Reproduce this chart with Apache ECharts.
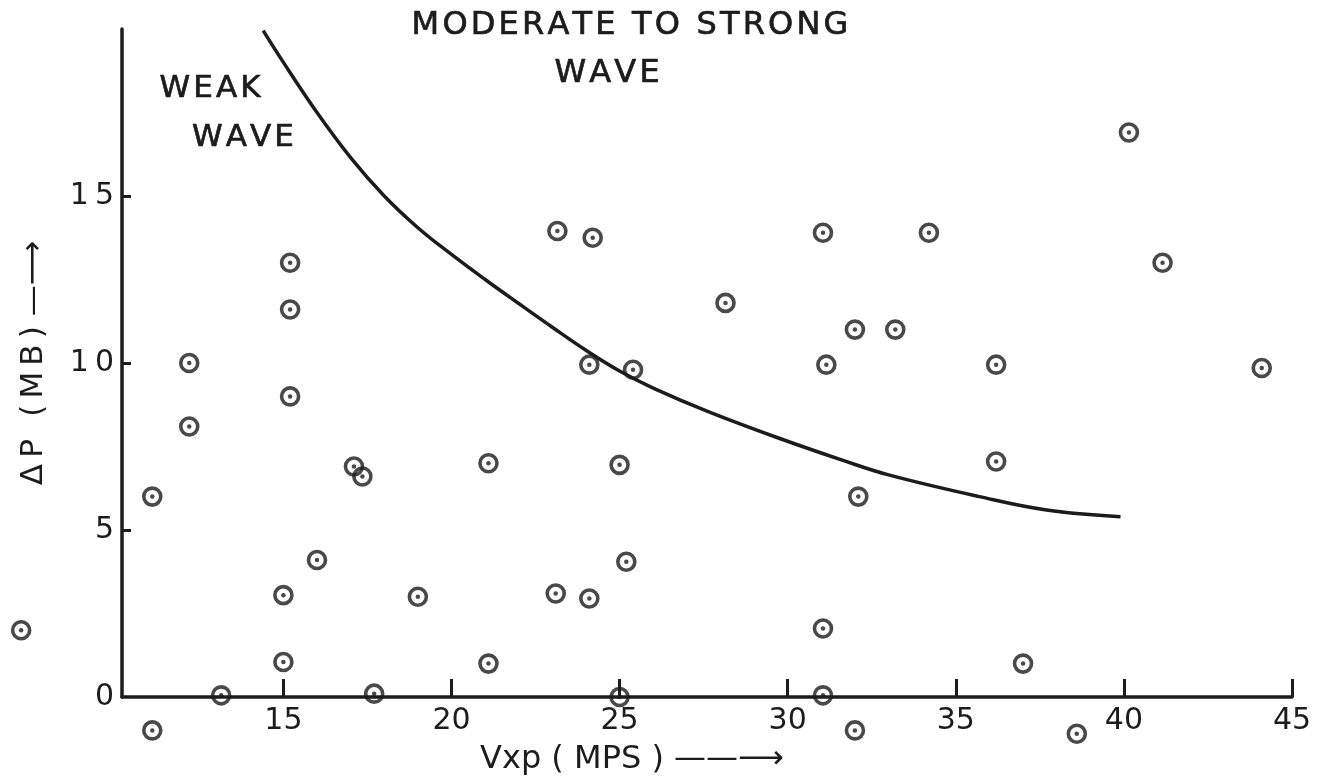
<!DOCTYPE html>
<html>
<head>
<meta charset="utf-8">
<script src="https://cdn.jsdelivr.net/npm/echarts@6/dist/echarts.min.js"></script>
<style>
  html, body { margin: 0; padding: 0; background: #fff; }
  #chart { width: 1318px; height: 778px; }
</style>
</head>
<body>
<div id="chart"></div>
<script>
// observed cases: Vxp (MPS) and delta P (MB)
const vxp = [7.2, 11.1, 11.1, 12.2, 12.2, 13.15, 15.2, 15.2, 15.2, 15.0, 15.0, 16.0, 17.1, 17.35, 17.7,
  19.0, 21.1, 21.1, 23.15, 24.2, 24.1, 25.4, 25.0, 25.2, 23.1, 24.1, 25.0, 28.15, 31.05, 31.15,
  32.0, 33.2, 34.2, 32.1, 31.05, 31.05, 32.0, 36.2, 36.2, 37.0, 38.6, 40.15, 41.15, 44.1];
const dp = [2.0, 6.0, -1.0, 10.0, 8.1, 0.05, 13.0, 11.6, 9.0, 3.05, 1.05, 4.1, 6.9, 6.6, 0.1,
  3.0, 7.0, 1.0, 13.95, 13.75, 9.95, 9.8, 6.95, 4.05, 3.1, 2.95, 0.0, 11.8, 13.9, 9.95,
  11.0, 11.0, 13.9, 6.0, 2.05, 0.05, -1.0, 9.95, 7.05, 1.0, -1.1, 16.9, 13.0, 9.85];

// boundary between weak and moderate/strong waves
const curveVxp = [14.4, 15.0, 16.0, 17.0, 18.0, 19.0, 20.0, 21.0, 22.0, 23.0, 24.0, 25.0, 26.0, 27.6, 29.6, 31.6, 33.0, 35.7, 37.7, 39.9];
const curveDp = [19.95, 19.0, 17.5, 16.15, 15.0, 14.05, 13.25, 12.5, 11.78, 11.07, 10.38, 9.76, 9.25, 8.56, 7.8, 7.1, 6.65, 6.0, 5.6, 5.4];

const xTicks = [15, 20, 25, 30, 35, 40, 45];
const yTicks = [5, 10, 15];
const yLabels = [0, 5, 10, 15];

const ink = '#1c1c1c';
const font = 'DejaVu Sans';

// lettering on the original is spread out a little
function spaced(s, sp) {
  return s.split('').join(sp || '\u200A');
}

const points = vxp.map((v, i) => [v, dp[i]]);
const curve = curveVxp.map((v, i) => [v, curveDp[i]]);

function note(text, x, y, size) {
  return {
    type: 'text', x: x, y: y,
    style: {
      text: spaced(text), fontSize: size, fontFamily: font, fill: ink,
      stroke: ink, lineWidth: 0.7,
      textAlign: 'center', textVerticalAlign: 'middle'
    }
  };
}

const chart = echarts.init(document.getElementById('chart'));
chart.setOption({
  animation: false,
  backgroundColor: '#fff',
  grid: { left: 122, right: 26, top: 29, bottom: 81, containLabel: false, outerBoundsMode: 'none' },
  xAxis: {
    type: 'value', min: 10.2, max: 45,
    axisLine: { show: true, onZero: true, lineStyle: { color: ink, width: 3.5 } },
    axisTick: { show: true, inside: true, length: 18, customValues: xTicks, lineStyle: { color: ink, width: 3 } },
    axisLabel: { customValues: xTicks, fontSize: 30, color: ink, margin: 9, fontFamily: font },
    splitLine: { show: false },
    name: 'Vxp ( MPS ) \u2014\u2014\u27F6',
    nameLocation: 'middle',
    nameGap: 47,
    nameTextStyle: { fontSize: 32, color: ink, fontFamily: font, padding: [0, 150, 0, 0] }
  },
  yAxis: {
    type: 'value', min: 0, max: 20,
    axisLine: { show: true, onZero: false, lineStyle: { color: ink, width: 3.5 } },
    axisTick: { show: true, inside: true, length: 9, customValues: yTicks, lineStyle: { color: ink, width: 3 } },
    axisLabel: {
      customValues: yLabels, fontSize: 30, color: ink, margin: 8, fontFamily: font,
      formatter: v => spaced(String(v), '\u2009')
    },
    splitLine: { show: false },
    name: spaced('\u0394P (MB)', '\u2009') + ' \u2014\u27F6',
    nameLocation: 'middle',
    nameGap: 73,
    nameTextStyle: { fontSize: 31, color: ink, fontFamily: font }
  },
  graphic: [
    note('MODERATE TO STRONG', 630, 26, 32),
    note('WAVE', 607, 74, 32),
    note('WEAK', 210, 89, 31),
    note('WAVE', 243, 138, 31)
  ],
  series: [
    {
      type: 'line', data: curve, smooth: 0.4, symbol: 'none',
      lineStyle: { color: ink, width: 3.5 }, silent: true
    },
    {
      type: 'scatter', data: points, symbol: 'circle', symbolSize: 17, clip: false,
      itemStyle: { color: 'rgba(255,255,255,0)', borderColor: ink, borderWidth: 3.6 }
    },
    {
      type: 'scatter', data: points, symbol: 'circle', symbolSize: 4.5, clip: false,
      itemStyle: { color: ink }
    }
  ]
});
</script>
</body>
</html>
